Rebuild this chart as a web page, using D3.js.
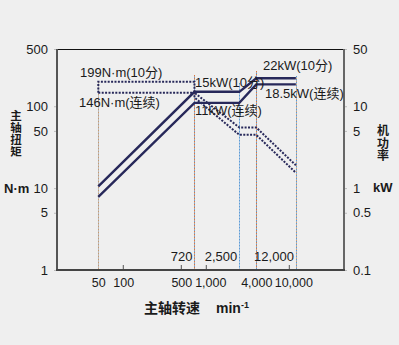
<!DOCTYPE html>
<html>
<head>
<meta charset="utf-8">
<script src="https://cdn.jsdelivr.net/npm/d3@7/dist/d3.min.js"></script>
<style>
  html, body { margin: 0; padding: 0; background: #efefef; }
  svg { display: block; font-family: "Liberation Sans", Arial, "Noto Sans CJK SC", sans-serif; }
  text { fill: #1a1a1a; }
</style>
</head>
<body>
<svg id="chart" width="399" height="345"></svg>
<script>
// Spindle speed (min^-1) vs. output power and torque
const powerSpeeds   = [50, 720, 2500, 4000, 12000];
const power10min    = [1.05, 15, 15, 22, 22];      // kW, 10-minute rating
const powerCont     = [0.78, 11, 11, 18.5, 18.5];  // kW, continuous rating

const torqueSpeeds  = [50, 50, 720, 720, 2500, 4000, 12000];
const torque10min   = [146, 199, 199, 146, 55, 55, 19];     // N·m
const torqueSpeedsC = [50, 720, 720, 2500, 4000, 12000];
const torqueCont    = [146, 146, 128, 44.7, 44.7, 15.4];    // N·m

const markerSpeeds  = [50, 720, 2500, 4000, 12000];
const markerLabels  = ["", "720", "2,500", "", "12,000"];

const xTickValues   = [50, 100, 500, 1000, 4000, 10000];
const xTickLabels   = ["50", "100", "500", "1,000", "4,000", "10,000"];
const torqueTicks   = [1, 5, 10, 50, 100, 500];
const powerTicks    = [0.1, 0.5, 1, 5, 10, 50];

const svg = d3.select("#chart");
const plotL = 57, plotR = 344, plotT = 49, plotB = 270;

const x  = d3.scaleLog().domain([15.9, 45600]).range([plotL, plotR]);
const yT = d3.scaleLog().domain([1, 500]).range([plotB, plotT]);
const yP = d3.scaleLog().domain([0.1, 50]).range([plotB, plotT]);

// vertical speed markers
const markerStyle = [
  { c1: "#c99a6e", c2: "#9fb3c8", y0: yT(199) },
  { c1: "#d9773f", c2: "#6a9fd6", y0: 75 },
  { c1: "#5b9bd5", c2: "#a9c6e6", y0: 83 },
  { c1: "#d9773f", c2: "#5b9bd5", y0: 71 },
  { c1: "#5b9bd5", c2: "#d9a070", y0: 76 }
];
markerSpeeds.forEach((s, i) => {
  const st = markerStyle[i];
  const xx = Math.round(x(s)) + 0.5;
  svg.append("line").attr("x1", xx).attr("x2", xx).attr("y1", st.y0).attr("y2", plotB)
    .attr("stroke", st.c2).attr("stroke-width", 1).attr("stroke-dasharray", "1.5,1.5")
    .attr("stroke-dashoffset", 1.5);
  svg.append("line").attr("x1", xx).attr("x2", xx).attr("y1", st.y0).attr("y2", plotB)
    .attr("stroke", st.c1).attr("stroke-width", 1).attr("stroke-dasharray", "1.5,1.5");
  if (markerLabels[i]) {
    svg.append("text").attr("x", x(s) - 2).attr("y", 261)
      .attr("text-anchor", "end").attr("font-size", 13).text(markerLabels[i]);
  }
});

// torque curves (dotted)
function torquePath(speeds, vals) {
  return d3.line().x((d, i) => x(speeds[i])).y(d => yT(d))(vals);
}
[[torqueSpeeds, torque10min], [torqueSpeedsC, torqueCont]].forEach(([s, v]) => {
  svg.append("path").attr("d", torquePath(s, v))
    .attr("fill", "none").attr("stroke", "#27285a").attr("stroke-width", 2)
    .attr("stroke-dasharray", "2,1.4");
});

// power curves (solid)
[power10min, powerCont].forEach(v => {
  svg.append("path")
    .attr("d", d3.line().x((d, i) => x(powerSpeeds[i])).y(d => yP(d))(v))
    .attr("fill", "none").attr("stroke", "#27285a").attr("stroke-width", 2.4)
    .attr("stroke-linejoin", "miter");
});

// frame
svg.append("line").attr("x1", plotL).attr("x2", plotR).attr("y1", plotT + 0.5).attr("y2", plotT + 0.5)
  .attr("stroke", "#111").attr("stroke-width", 1);

// left axis (torque)
const gL = svg.append("g").attr("transform", `translate(${plotL},0)`)
  .call(d3.axisLeft(yT).tickValues(torqueTicks).tickFormat(d3.format("d")).tickSize(3).tickPadding(6));
gL.select(".domain").remove();
gL.selectAll(".tick line").attr("stroke", "#bbb");
gL.selectAll(".tick text").attr("font-size", 13).attr("fill", "#1a1a1a").attr("font-family", null);
svg.append("line").attr("x1", plotL).attr("x2", plotL).attr("y1", plotT).attr("y2", plotB + 1)
  .attr("stroke", "#555").attr("stroke-width", 2);

// right axis (power)
const gR = svg.append("g").attr("transform", `translate(${plotR},0)`)
  .call(d3.axisRight(yP).tickValues(powerTicks).tickFormat(d => String(d)).tickSize(3).tickPadding(6));
gR.select(".domain").remove();
gR.selectAll(".tick line").attr("stroke", "#bbb");
gR.selectAll(".tick text").attr("font-size", 13).attr("fill", "#1a1a1a").attr("font-family", null);
svg.append("line").attr("x1", plotR).attr("x2", plotR).attr("y1", plotT).attr("y2", plotB + 1)
  .attr("stroke", "#666").attr("stroke-width", 2);

// bottom axis (speed); crowded labels are nudged apart
const labelNudge = { 1000: 4, 10000: 4 };
const gB = svg.append("g").attr("transform", `translate(0,${plotB})`)
  .call(d3.axisBottom(x).tickValues(xTickValues).tickFormat((d, i) => xTickLabels[i]).tickSize(0).tickPadding(8));
gB.select(".domain").remove();
gB.selectAll(".tick text").attr("font-size", 12.5).attr("fill", "#1a1a1a").attr("font-family", null)
  .attr("dx", d => labelNudge[d] || 0);
[100, 500, 1000, 10000].forEach(s => {
  svg.append("line").attr("x1", x(s)).attr("x2", x(s)).attr("y1", plotB - 5).attr("y2", plotB)
    .attr("stroke", "#555").attr("stroke-width", 1);
});
svg.append("line").attr("x1", plotL - 1).attr("x2", plotR + 1).attr("y1", plotB).attr("y2", plotB)
  .attr("stroke", "#444").attr("stroke-width", 2);

// curve annotations
const notes = [
  { t: "199N·m(10分)", x: 80, y: 77 },
  { t: "146N·m(连续)", x: 79, y: 107 },
  { t: "15kW(10分)", x: 195, y: 87 },
  { t: "11kW(连续)", x: 195, y: 115 },
  { t: "22kW(10分)", x: 263, y: 70 },
  { t: "18.5kW(连续)", x: 265, y: 98 }
];
notes.forEach(n => svg.append("text").attr("x", n.x).attr("y", n.y).attr("font-size", 13).text(n.t));

// axis titles (stacked vertically)
"主轴扭矩".split("").forEach((ch, i) => {
  svg.append("text").attr("x", 16).attr("y", 120 + i * 12).attr("text-anchor", "middle")
    .attr("font-size", 11.5).attr("font-weight", "bold").text(ch);
});
svg.append("text").attr("x", 4).attr("y", 193).attr("font-size", 13).attr("font-weight", "bold").text("N·m");
"机功率".split("").forEach((ch, i) => {
  svg.append("text").attr("x", 383).attr("y", 135 + i * 12.5).attr("text-anchor", "middle")
    .attr("font-size", 12).attr("font-weight", "bold").text(ch);
});
svg.append("text").attr("x", 373).attr("y", 192).attr("font-size", 13).attr("font-weight", "bold").text("kW");

const xt = svg.append("text").attr("x", 144).attr("y", 313).attr("font-size", 14).attr("font-weight", "bold");
xt.append("tspan").text("主轴转速");
xt.append("tspan").attr("x", 216).text("min");
xt.append("tspan").attr("font-size", 9).attr("dy", -5).text("-1");
</script>
</body>
</html>
